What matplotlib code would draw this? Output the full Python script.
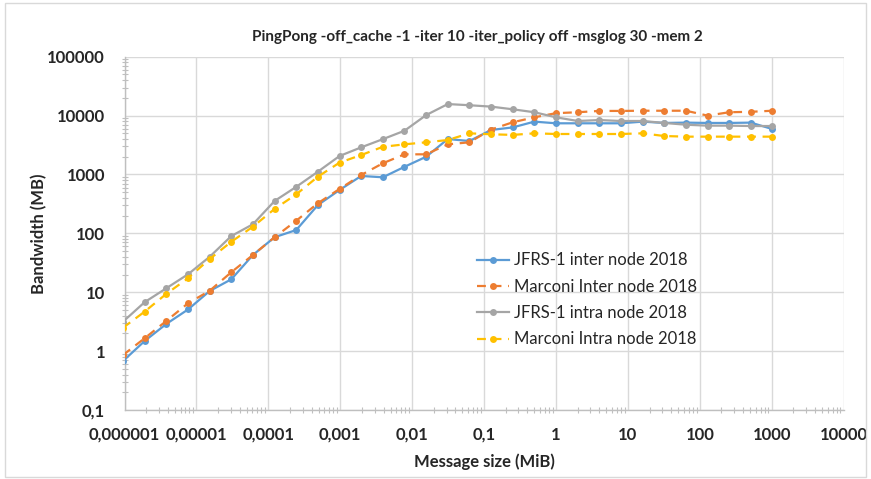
import matplotlib
matplotlib.use("Agg")
import matplotlib.pyplot as plt
from matplotlib.ticker import LogLocator, FixedLocator, NullFormatter
from matplotlib.patches import Rectangle

plt.rcParams['font.family'] = ['Lato', 'DejaVu Sans']

title = "PingPong -off_cache -1 -iter 10 -iter_policy off -msglog 30 -mem 2"
xlabel = "Message size (MiB)"
ylabel = "Bandwidth (MB)"

message_bytes = [1, 2, 4, 8, 16, 32, 64, 128, 256, 512, 1024, 2048, 4096, 8192,
                 16384, 32768, 65536, 131072, 262144, 524288, 1048576, 2097152,
                 4194304, 8388608, 16777216, 33554432, 67108864, 134217728,
                 268435456, 536870912, 1073741824]
message_mib = [b / 1048576 for b in message_bytes]

jfrs_inter = [0.68, 1.49, 2.9, 5.1, 10.5, 16.6, 43, 86, 114, 303, 545, 944, 896, 1350,
              2000, 4000, 3700, 5700, 6300, 7900, 7400, 7400, 7400, 7400, 7900, 7500,
              7600, 7500, 7500, 7600, 5900]
marconi_inter = [0.86, 1.66, 3.26, 6.5, 10.6, 21.9, 43, 86, 164, 325, 568, 980, 1550, 2200,
                 2200, 3250, 3520, 5800, 7700, 9350, 11000, 11400, 12000, 12000, 12100,
                 12100, 12100, 10000, 11400, 11600, 12100]
jfrs_intra = [3.17, 6.8, 11.7, 20.2, 40, 90, 143, 355, 617, 1116, 2060, 2890, 3980, 5530,
              10200, 15700, 15000, 14200, 12800, 11400, 9350, 8100, 8400, 8100, 8100,
              7500, 7000, 6750, 6750, 6650, 6650]
marconi_intra = [2.5, 4.7, 9.4, 17.3, 36.7, 72, 130, 260, 460, 918, 1590, 2140, 2950, 3250,
                 3520, 3850, 5000, 4820, 4700, 5000, 4870, 4870, 4870, 4870, 5000, 4500,
                 4390, 4390, 4390, 4390, 4390]

series_names = ["JFRS-1 inter node 2018", "Marconi Inter node 2018",
                "JFRS-1 intra node 2018", "Marconi Intra node 2018"]

x_ticks = [1e-6, 1e-5, 1e-4, 1e-3, 1e-2, 1e-1, 1, 10, 100, 1000, 10000]
x_ticklabels = ["0,000001", "0,00001", "0,0001", "0,001", "0,01", "0,1",
                "1", "10", "100", "1000", "10000"]
y_ticks = [0.1, 1, 10, 100, 1000, 10000, 100000]
y_ticklabels = ["0,1", "1", "10", "100", "1000", "10000", "100000"]

fig = plt.figure(figsize=(8.71, 4.79), dpi=100)
fig.patch.set_facecolor('white')
ax = fig.add_axes([0.143, 0.144, 0.9686 - 0.143, 0.8816 - 0.144])

styles = [
    dict(color='#5B9BD5', linestyle='-'),
    dict(color='#ED7D31', linestyle=(0, (4, 3))),
    dict(color='#A5A5A5', linestyle='-'),
    dict(color='#FFC000', linestyle=(0, (4, 3))),
]
for ys, name, st in zip([jfrs_inter, marconi_inter, jfrs_intra, marconi_intra],
                        series_names, styles):
    ax.plot(message_mib, ys, label=name, color=st['color'], linestyle=st['linestyle'],
            linewidth=1.6, marker='o', markersize=5, markeredgewidth=0, zorder=3)

ax.set_xscale('log')
ax.set_yscale('log')
ax.set_xlim(1e-6, 1e4)
ax.set_ylim(0.1, 1e5)

ax.xaxis.set_major_locator(FixedLocator(x_ticks))
ax.set_xticklabels(x_ticklabels)
ax.yaxis.set_major_locator(FixedLocator(y_ticks))
ax.set_yticklabels(y_ticklabels)
ax.xaxis.set_minor_locator(LogLocator(base=10, subs=range(2, 10), numticks=20))
ax.yaxis.set_minor_locator(LogLocator(base=10, subs=range(2, 10), numticks=20))
ax.xaxis.set_minor_formatter(NullFormatter())
ax.yaxis.set_minor_formatter(NullFormatter())

for lab in ax.get_xticklabels() + ax.get_yticklabels():
    lab.set_fontweight('bold')
    lab.set_fontsize(12)
    lab.set_color('#262626')

ax.tick_params(which='major', length=0, pad=12)
ax.tick_params(axis='y', which='major', pad=14)
ax.tick_params(which='minor', direction='inout', length=5, width=0.8, color='#BFBFBF')

ax.grid(True, which='major', color='#D9D9D9', linewidth=1.0, zorder=0)
ax.set_axisbelow(True)
for side in ['top', 'right']:
    ax.spines[side].set_visible(False)
for side in ['left', 'bottom']:
    ax.spines[side].set_color('#BFBFBF')
    ax.spines[side].set_linewidth(1.0)

ax.set_xlabel(xlabel, fontsize=12, fontweight='bold', color='#262626', labelpad=8)
ax.set_ylabel(ylabel, fontsize=12, fontweight='bold', color='#262626', labelpad=0)

fig.text(477 / 871, 1 - 37 / 479, title, ha='center', va='center',
         fontsize=11, fontweight='bold', color='#262626')

leg = ax.legend(loc='upper left', bbox_to_anchor=(0.481, 0.465), frameon=False,
                fontsize=12, handlelength=1.9, handletextpad=0.3,
                labelspacing=0.62, borderaxespad=0)
for t in leg.get_texts():
    t.set_color('#262626')

fig.patches.append(Rectangle((0.006, 0.004), 0.988, 0.99, transform=fig.transFigure,
                             fill=False, edgecolor='#D9D9D9', linewidth=1.0))

fig.savefig('out.png', dpi=100, facecolor='white')
